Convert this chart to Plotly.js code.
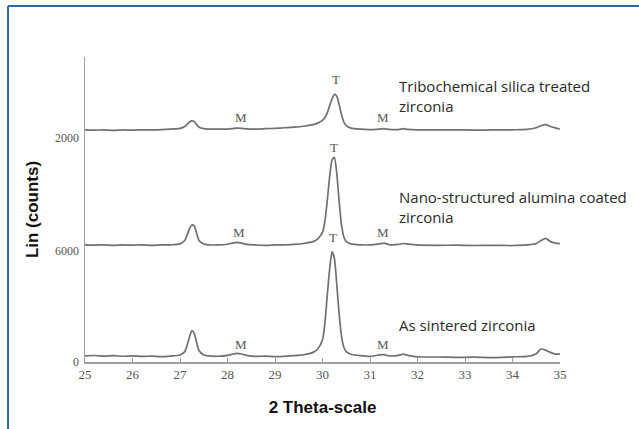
<!DOCTYPE html>
<html>
<head>
<meta charset="utf-8">
<script src="https://cdn.plot.ly/plotly-3.0.1.min.js"></script>
<style>
html,body{margin:0;padding:0;background:#fff;}
#chart{width:639px;height:429px;}
</style>
</head>
<body>
<div id="chart"></div>
<script>
// 2-theta positions (degrees)
const twoTheta = [25.0,25.2,25.4,25.6,25.8,26.0,26.2,26.4,26.6,26.8,27.0,27.1,27.15,27.2,27.25,27.3,27.35,27.4,27.5,27.6,27.8,28.0,28.1,28.2,28.3,28.4,28.6,28.8,29.0,29.2,29.4,29.6,29.8,29.9,30.0,30.05,30.1,30.15,30.2,30.25,30.3,30.35,30.4,30.45,30.5,30.6,30.8,31.0,31.2,31.3,31.4,31.6,31.7,31.8,32.0,32.4,32.8,33.2,33.6,34.0,34.3,34.5,34.6,34.7,34.8,34.9,35.0];

// Intensities (counts)
const asSintered = [330,350,320,340,310,330,300,320,290,320,380,560,900,1350,1700,1550,1050,620,380,330,310,360,420,470,430,360,300,320,290,310,340,390,520,700,1200,2100,3600,5000,5950,5600,4200,2600,1400,800,560,420,340,300,380,400,330,360,420,360,280,270,250,260,240,280,300,450,700,640,520,430,440];
const nanoAlumina = [330,310,330,300,320,310,330,300,320,330,380,560,850,1200,1400,1350,950,560,370,330,320,360,420,460,420,350,320,300,320,330,350,400,500,650,1000,1600,2700,4000,4900,5050,4200,2700,1400,750,500,380,330,320,380,420,340,350,400,370,320,300,310,290,300,290,320,400,560,680,500,420,390];
const tribochemical = [330,320,340,310,330,320,340,330,350,380,420,520,640,760,820,780,620,480,400,380,370,380,400,430,420,390,380,400,420,450,480,530,620,700,850,1000,1250,1650,2000,2250,2150,1700,1150,760,560,430,370,350,380,400,360,350,400,360,340,330,340,320,330,340,360,450,560,620,520,440,380];

// vertical stacking offsets of the three patterns
const seriesNames = ['As sintered zirconia','Nano-structured alumina coated<br>zirconia','Tribochemical silica treated<br>zirconia'];
const stackOffset = [0, 6000, 12200];

const xTicks = [25,26,27,28,29,30,31,32,33,34,35];
const yTickVals = [0, 6000, 12100];
const yTickText = ['0','6000','2000'];

// peak labels
const peakLabelX = [28.28, 31.27, 30.22, 28.24, 31.27, 30.25, 28.28, 31.27, 30.28];
const peakLabelY = [920, 920, 6700, 7020, 7020, 11610, 13180, 13180, 15230];
const peakLabelText = ['M','M','T','M','M','T','M','M','T'];

const seriesData = [asSintered, nanoAlumina, tribochemical];
const traces = seriesData.map((s, i) => ({
  x: twoTheta,
  y: s.map(v => v + stackOffset[i]),
  type: 'scatter',
  mode: 'lines',
  line: {color: '#707070', width: 1.7, shape: 'spline', smoothing: 0.6},
  name: seriesNames[i],
  hoverinfo: 'x+y'
}));

const nameX = [31.57, 31.57, 31.57];
const nameY = [2000, 8370, 14360];

const annotations = [];
for (let i = 0; i < peakLabelText.length; i++) {
  annotations.push({x: peakLabelX[i], y: peakLabelY[i], xref: 'x', yref: 'y', text: peakLabelText[i], showarrow: false,
    font: {family: 'Liberation Serif, Times New Roman, serif', size: 13, color: '#555'}});
}
for (let i = 0; i < seriesNames.length; i++) {
  annotations.push({x: nameX[i], y: nameY[i], xref: 'x', yref: 'y', text: seriesNames[i], showarrow: false,
    xanchor: 'left', align: 'left',
    font: {family: 'Open Sans, Arial, sans-serif', size: 15, color: '#2a2a2a'}});
}

const layout = {
  width: 639, height: 429,
  margin: {l: 85, r: 79, t: 57, b: 67},
  paper_bgcolor: '#ffffff', plot_bgcolor: '#ffffff',
  showlegend: false,
  xaxis: {
    range: [25, 35], tickvals: xTicks, ticktext: xTicks.map(String),
    showgrid: false, zeroline: false, showline: true, linecolor: '#a0a0a0', linewidth: 1.5,
    ticks: 'inside', ticklen: 4, tickcolor: '#a0a0a0',
    tickfont: {family: 'Liberation Serif, Times New Roman, serif', size: 13, color: '#555'},
    title: {text: '2 Theta-scale', standoff: 20, font: {family: 'Liberation Sans, Arial, sans-serif', size: 17, color: '#111', weight: 'bold'}}
  },
  yaxis: {
    range: [0, 16470], tickvals: yTickVals, ticktext: yTickText,
    showgrid: false, zeroline: false, showline: true, linecolor: '#a0a0a0', linewidth: 1.5,
    ticks: '', ticklabelstandoff: 2,
    tickfont: {family: 'Liberation Serif, Times New Roman, serif', size: 12, color: '#555'},
    title: {text: 'Lin (counts)', standoff: 12, font: {family: 'Liberation Sans, Arial, sans-serif', size: 17, color: '#111', weight: 'bold'}}
  },
  shapes: [
    {type: 'line', xref: 'paper', yref: 'paper', x0: -0.162, x1: 1.2, y0: 1.167, y1: 1.167, line: {color: '#2f66a8', width: 2}},
    {type: 'line', xref: 'paper', yref: 'paper', x0: -0.162, x1: -0.162, y0: 1.167, y1: -0.25, line: {color: '#2f66a8', width: 2}}
  ],
  annotations: annotations
};

Plotly.newPlot('chart', traces, layout, {displayModeBar: false, staticPlot: true});
</script>
</body>
</html>
